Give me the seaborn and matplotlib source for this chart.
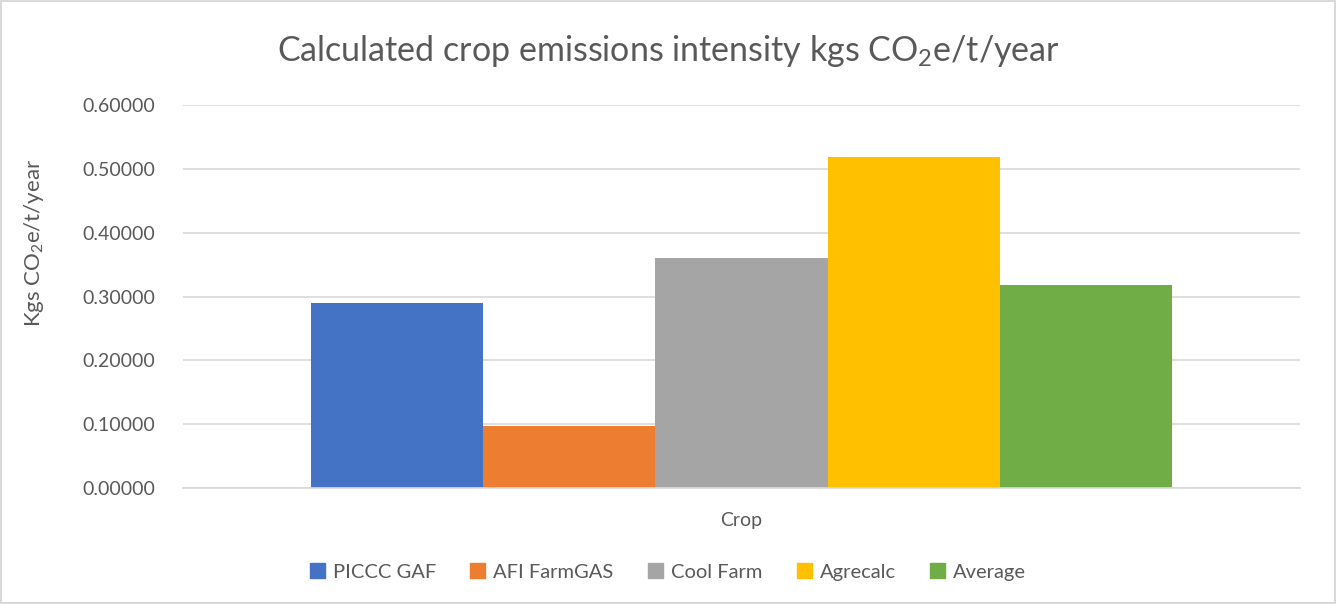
import matplotlib
matplotlib.use("Agg")
import matplotlib.pyplot as plt
import seaborn as sns
import pandas as pd
from matplotlib.ticker import FormatStrFormatter

tools = ["PICCC GAF", "AFI FarmGAS", "Cool Farm", "Agrecalc", "Average"]
values = [0.2895, 0.0969, 0.3602, 0.5188, 0.3178]
category = "Crop"
colors = ["#4472C4", "#ED7D31", "#A5A5A5", "#FFC000", "#70AD47"]

df = pd.DataFrame({"crop": [category] * len(tools), "tool": tools, "value": values})

sns.set_theme(style="white")
plt.rcParams["font.family"] = ["Lato", "DejaVu Sans"]
plt.rcParams["mathtext.default"] = "regular"

text_color = "#595959"

fig = plt.figure(figsize=(13.36, 6.04), dpi=100)
ax = fig.add_axes([0.137, 0.192, 0.836, 0.634])

sns.barplot(data=df, x="crop", y="value", hue="tool", palette=colors,
            width=0.771, gap=0, saturation=1, linewidth=0, ax=ax, legend=False)

ax.set_xlim(-0.5, 0.5)
ax.set_ylim(0, 0.6)
ax.set_yticks([0, 0.1, 0.2, 0.3, 0.4, 0.5, 0.6])
ax.yaxis.set_major_formatter(FormatStrFormatter("%.5f"))
ax.grid(axis="y", color="#d9d9d9", linewidth=1.2)
ax.set_axisbelow(True)
for s in ["top", "right", "left"]:
    ax.spines[s].set_visible(False)
ax.spines["bottom"].set_color("#d9d9d9")
ax.tick_params(axis="y", length=0, pad=20, labelsize=14, labelcolor=text_color)
ax.tick_params(axis="x", length=0, pad=17, labelsize=14, labelcolor=text_color)
ax.set_xlabel("")
ax.set_ylabel("Kgs CO$_2$e/t/year", fontsize=16, color=text_color)
ax.yaxis.set_label_coords(-0.123, 0.64)

fig.suptitle("Calculated crop emissions intensity kgs CO$_2$e/t/year",
             fontsize=24.5, color=text_color, y=0.945)

handles = [plt.Rectangle((0, 0), 1, 1, color=c) for c in colors]
fig.legend(handles, tools, loc="center", bbox_to_anchor=(0.5, 0.053), ncol=5,
           frameon=False, fontsize=14.5, labelcolor=text_color,
           handlelength=0.75, handleheight=0.75, handletextpad=0.4, columnspacing=1.7)

fig.patch.set_edgecolor("#d9d9d9")
fig.patch.set_linewidth(1.5)

fig.savefig("out.png", dpi=100, edgecolor=fig.get_edgecolor())
